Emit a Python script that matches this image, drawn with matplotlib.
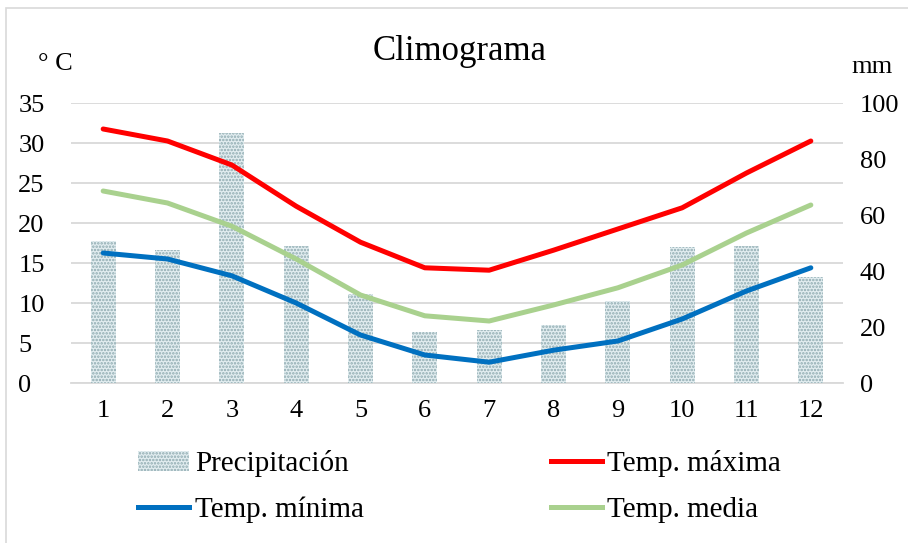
import matplotlib
matplotlib.use("Agg")
import matplotlib.pyplot as plt
from matplotlib.patches import Patch, Rectangle
from matplotlib.lines import Line2D

plt.rcParams['font.family'] = ['Liberation Serif', 'DejaVu Serif']
plt.rcParams['hatch.linewidth'] = 1.2

months = [1, 2, 3, 4, 5, 6, 7, 8, 9, 10, 11, 12]
precip = [50.7, 47.5, 89.3, 48.9, 31.8, 18.2, 18.9, 20.7, 29.3, 48.6, 48.9, 37.9]
t_max = [31.75, 30.25, 27.25, 22.1, 17.6, 14.4, 14.1, 16.6, 19.25, 21.9, 26.25, 30.25]
t_min = [16.25, 15.5, 13.4, 10.0, 6.0, 3.5, 2.6, 4.1, 5.25, 8.0, 11.5, 14.4]
t_med = [24.0, 22.5, 19.6, 15.5, 11.0, 8.4, 7.75, 9.75, 11.9, 14.75, 18.75, 22.25]
left_ticks = [0, 5, 10, 15, 20, 25, 30, 35]
right_ticks = [0, 20, 40, 60, 80, 100]

W, H = 908, 543
fig = plt.figure(figsize=(W / 100, H / 100), dpi=100)

# chart border
fig.patches.append(Rectangle((6 / W, -0.01), (W - 5) / W, 1 - 8 / H + 0.01,
                             transform=fig.transFigure, fill=False,
                             edgecolor='#d9d9d9', linewidth=1.2))

l, r, b, t = 71 / W, 843 / W, 1 - 383 / H, 1 - 103 / H
ax = fig.add_axes([l, b, r - l, t - b])
ax.set_xlim(0.5, 12.5)
ax.set_ylim(0, 35)
ax.set_yticks(left_ticks)
ax.grid(axis='y', color='#d9d9d9', linewidth=1.3)
ax.set_axisbelow(True)
ax.set_xticks(months)
for s in ['top', 'right', 'left']:
    ax.spines[s].set_visible(False)
ax.spines['bottom'].set_color('#d9d9d9')
ax.spines['bottom'].set_linewidth(1.3)
ax.tick_params(axis='both', length=0, labelsize=19, colors='black')
ax.tick_params(axis='x', pad=12)
ax.tick_params(axis='y', pad=38)
for lab in ax.get_yticklabels():
    lab.set_horizontalalignment('left')

ax2 = ax.twinx()
ax2.set_ylim(0, 100)
ax2.set_yticks(right_ticks)
ax2.bar(months, precip, width=0.39, color='#e2edf0', edgecolor='#8eaab0',
        linewidth=0, hatch='.....', zorder=2)
for s in ax2.spines.values():
    s.set_visible(False)
ax2.tick_params(axis='y', length=0, labelsize=19, pad=12, colors='black')

ax3 = ax.twinx()
ax3.set_ylim(0, 35)
ax3.set_yticks([])
for s in ax3.spines.values():
    s.set_visible(False)
c_max, c_min, c_med = '#ff0000', '#0070c0', '#a9d18e'
ax3.plot(months, t_max, color=c_max, lw=3.6, solid_capstyle='round')
ax3.plot(months, t_med, color=c_med, lw=3.6, solid_capstyle='round')
ax3.plot(months, t_min, color=c_min, lw=3.6, solid_capstyle='round')

fig.text(460 / W, 1 - 52 / H, 'Climograma', ha='center', va='center', fontsize=25)
fig.text(38 / W, 1 - 64 / H, '° C', ha='left', va='center', fontsize=19)
fig.text(872 / W, 1 - 67 / H, 'mm', ha='center', va='center', fontsize=19)

handles = [
    Patch(facecolor='#e2edf0', edgecolor='#8eaab0', hatch='.....', linewidth=0),
    Line2D([], [], color=c_min, lw=3.6),
    Line2D([], [], color=c_max, lw=3.6),
    Line2D([], [], color=c_med, lw=3.6),
]
labels = ['Precipitación', 'Temp. mínima', 'Temp. máxima', 'Temp. media']
fig.legend(handles, labels, ncol=2, loc='upper left',
           bbox_to_anchor=(138 / W, 1 - 450 / H), frameon=False, fontsize=21,
           handlelength=1.75, handletextpad=0.2, columnspacing=6.4,
           labelspacing=0.68, borderaxespad=0, borderpad=0)

fig.savefig('out.png', dpi=100)
